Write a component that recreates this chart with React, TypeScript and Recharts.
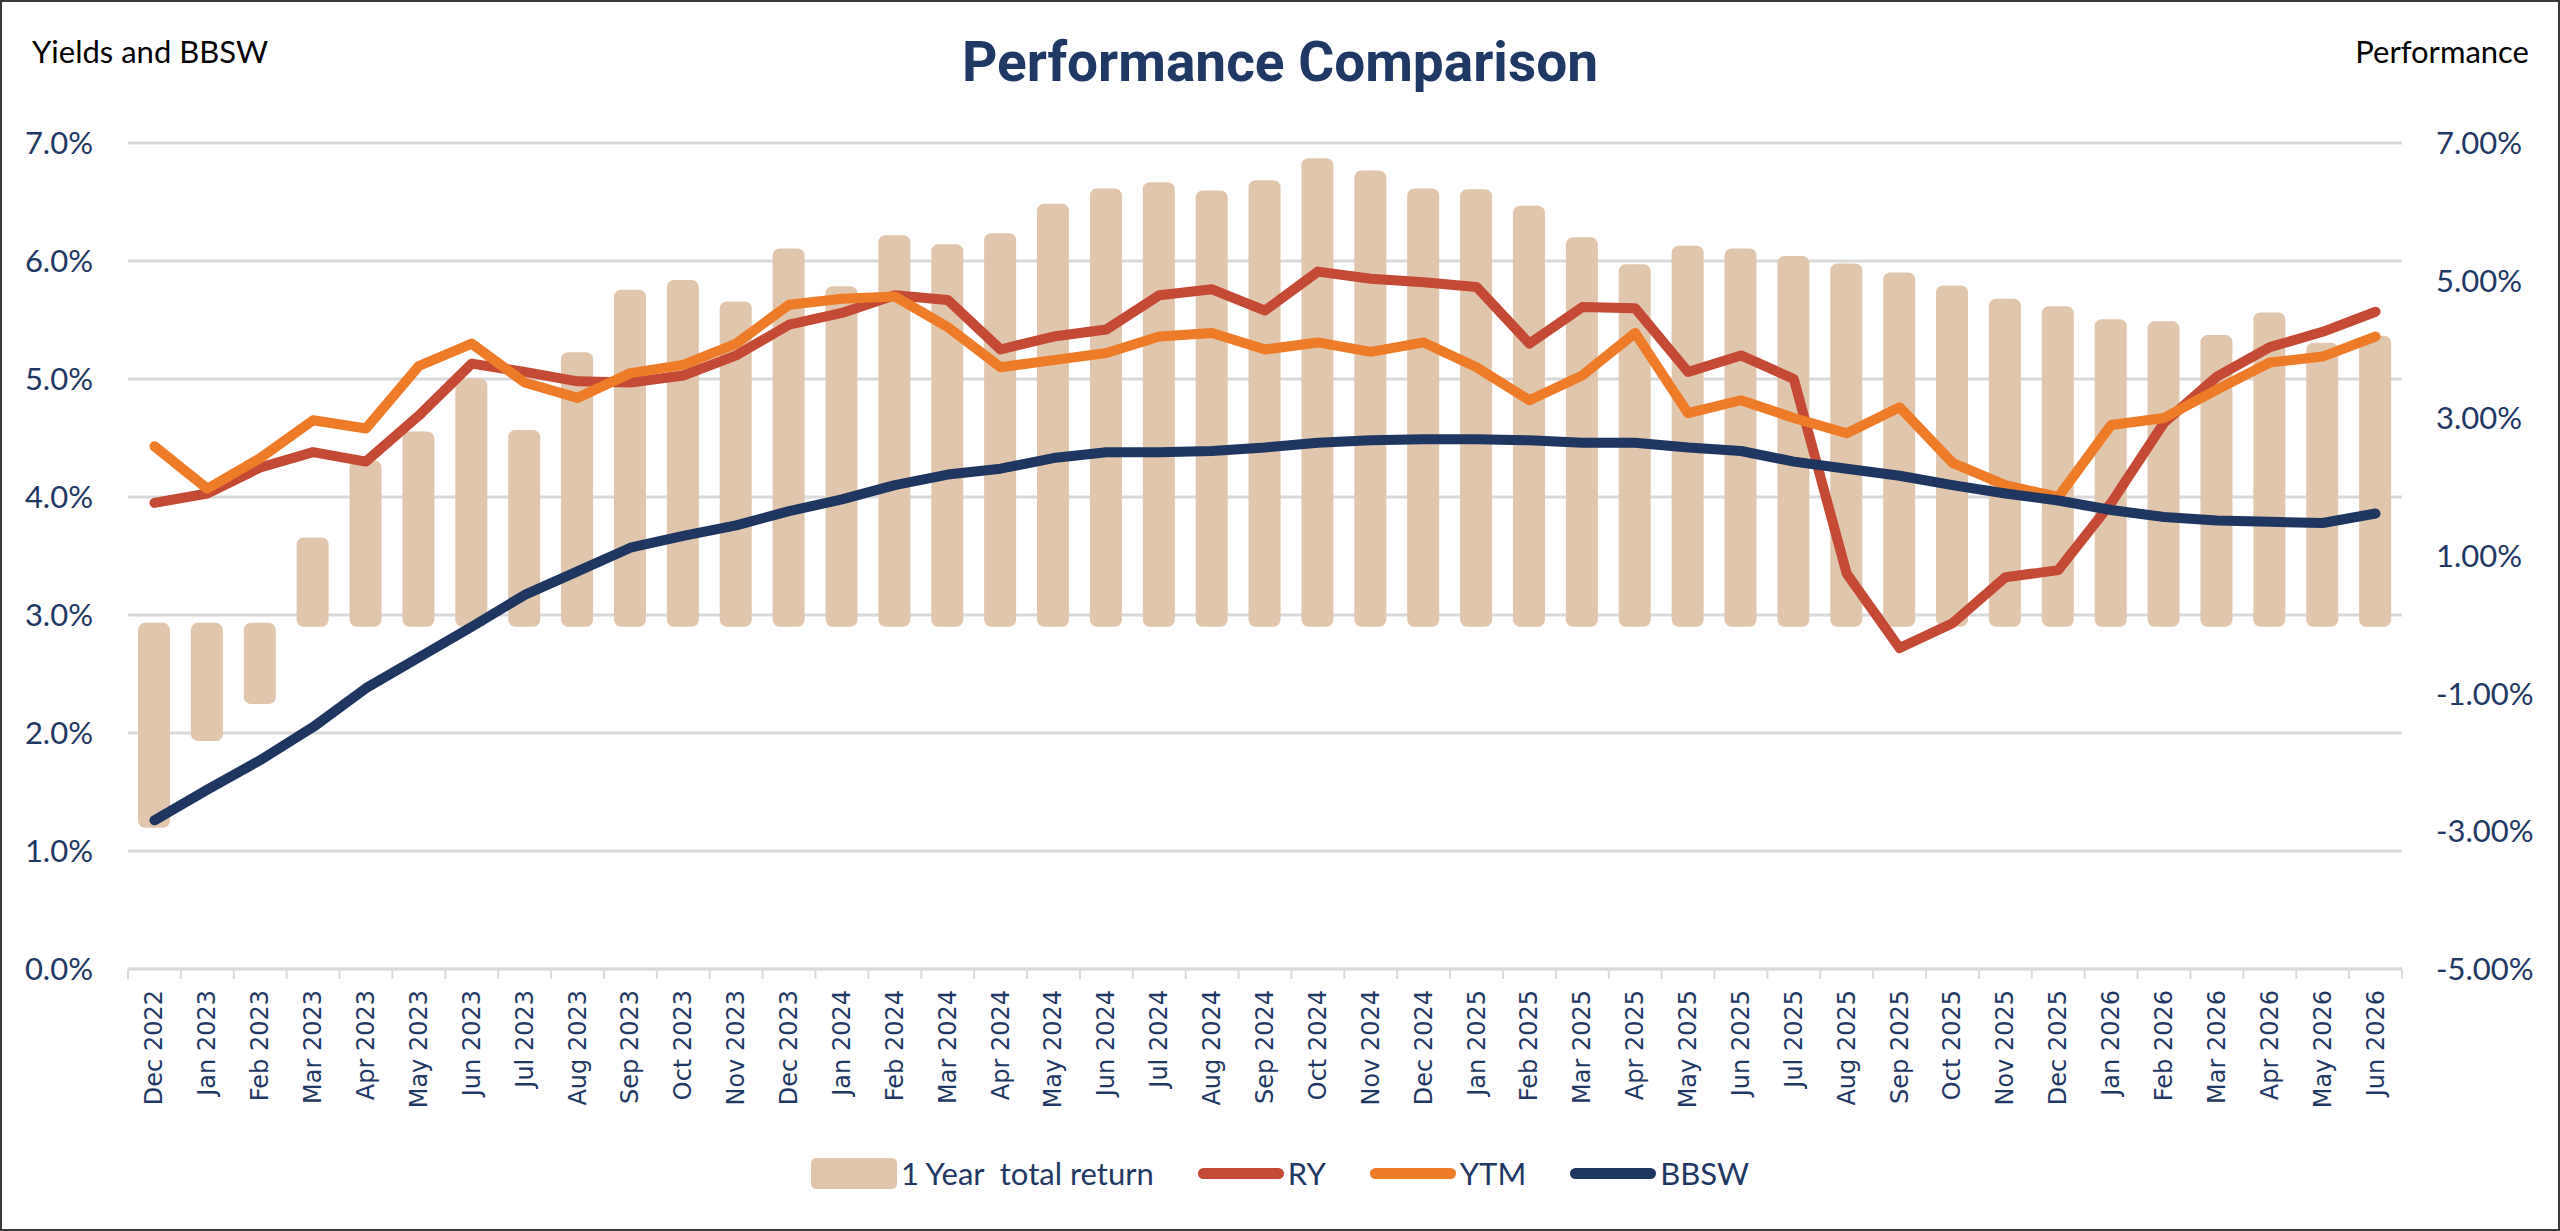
import React from 'react';
import { ComposedChart, Bar, Line, XAxis, YAxis, CartesianGrid, Legend } from 'recharts';

const months = [
  'Dec 2022', 'Jan 2023', 'Feb 2023', 'Mar 2023', 'Apr 2023', 'May 2023', 'Jun 2023', 'Jul 2023',
  'Aug 2023', 'Sep 2023', 'Oct 2023', 'Nov 2023', 'Dec 2023', 'Jan 2024', 'Feb 2024', 'Mar 2024',
  'Apr 2024', 'May 2024', 'Jun 2024', 'Jul 2024', 'Aug 2024', 'Sep 2024', 'Oct 2024', 'Nov 2024',
  'Dec 2024', 'Jan 2025', 'Feb 2025', 'Mar 2025', 'Apr 2025', 'May 2025', 'Jun 2025', 'Jul 2025',
  'Aug 2025', 'Sep 2025', 'Oct 2025', 'Nov 2025', 'Dec 2025', 'Jan 2026', 'Feb 2026', 'Mar 2026',
  'Apr 2026', 'May 2026', 'Jun 2026',
];

// 1 year total return (right axis, %)
const totalReturn = [
  -2.92, -1.66, -1.12, 1.24, 2.36, 2.78, 3.55, 2.8, 3.93, 4.84, 4.98, 4.67, 5.44, 4.89, 5.63, 5.5,
  5.66, 6.09, 6.31, 6.4, 6.28, 6.43, 6.75, 6.57, 6.31, 6.3, 6.06, 5.6, 5.21, 5.48, 5.44, 5.33,
  5.22, 5.09, 4.9, 4.71, 4.6, 4.41, 4.38, 4.18, 4.51, 4.07, 4.17,
];

// yields and BBSW (left axis, %)
const ry = [
  3.95, 4.03, 4.25, 4.38, 4.3, 4.69, 5.13, 5.06, 4.98, 4.97, 5.03, 5.2, 5.46, 5.56, 5.71, 5.67,
  5.25, 5.36, 5.42, 5.71, 5.76, 5.58, 5.91, 5.85, 5.82, 5.78, 5.3, 5.61, 5.6, 5.06, 5.2, 5.0,
  3.35, 2.72, 2.93, 3.32, 3.38, 3.95, 4.63, 5.02, 5.27, 5.4, 5.57,
];

const ytm = [
  4.43, 4.07, 4.33, 4.65, 4.58, 5.11, 5.3, 4.97, 4.84, 5.05, 5.12, 5.3, 5.63, 5.68, 5.7, 5.44,
  5.1, 5.16, 5.22, 5.36, 5.39, 5.25, 5.31, 5.23, 5.31, 5.1, 4.82, 5.03, 5.39, 4.71, 4.82, 4.67,
  4.54, 4.76, 4.29, 4.1, 4.0, 4.61, 4.67, 4.91, 5.14, 5.19, 5.36,
];

const bbsw = [
  1.26, 1.52, 1.77, 2.05, 2.38, 2.64, 2.9, 3.17, 3.37, 3.57, 3.67, 3.76, 3.88, 3.98, 4.1, 4.19,
  4.24, 4.33, 4.38, 4.38, 4.39, 4.42, 4.46, 4.48, 4.49, 4.49, 4.48, 4.46, 4.46, 4.42, 4.39, 4.3,
  4.24, 4.18, 4.1, 4.03, 3.97, 3.89, 3.83, 3.8, 3.79, 3.78, 3.86,
];

const yieldTicks = [0, 1, 2, 3, 4, 5, 6, 7];
const returnTicks = [-5, -3, -1, 1, 3, 5, 7];

const data = months.map((month, i) => ({
  month,
  totalReturn: totalReturn[i],
  ry: ry[i],
  ytm: ytm[i],
  bbsw: bbsw[i],
}));

const WIDTH = 2560;
const HEIGHT = 1231;
const LEFT_AXIS_W = 128;
const RIGHT_AXIS_W = 158;
const BAND = (WIDTH - LEFT_AXIS_W - RIGHT_AXIS_W) / months.length;

const NAVY = '#1F3864';
const GRID = '#D9D9D9';
const BAR_COLOR = '#E0C6AC';
const RY_COLOR = '#C54A36';
const YTM_COLOR = '#EE7B27';
const BBSW_COLOR = '#1F3660';

const LABEL_GAP = 21;

const MonthTick = (props: any) => {
  const { x, y, payload, index } = props;
  const axisY = y - LABEL_GAP;
  const half = BAND / 2;
  return (
    <g>
      <line x1={x - half} x2={x - half} y1={axisY} y2={axisY + 10} stroke={GRID} strokeWidth={2} />
      {index === months.length - 1 && (
        <line x1={x + half} x2={x + half} y1={axisY} y2={axisY + 10} stroke={GRID} strokeWidth={2} />
      )}
      <text
        x={x}
        y={y}
        transform={`rotate(-90 ${x} ${y})`}
        textAnchor="end"
        dominantBaseline="central"
        fill={NAVY}
        fontSize={24}
        fontFamily="DejaVu Sans"
      >
        {payload.value}
      </text>
    </g>
  );
};

const legendItems = [
  { name: '1 Year  total return', color: BAR_COLOR, type: 'bar' },
  { name: 'RY', color: RY_COLOR, type: 'line' },
  { name: 'YTM', color: YTM_COLOR, type: 'line' },
  { name: 'BBSW', color: BBSW_COLOR, type: 'line' },
];

const LegendRow = () => (
  <div style={{ height: 100, boxSizing: 'border-box', paddingTop: 26 }}>
    <div style={{ display: 'flex', justifyContent: 'center', alignItems: 'center', height: 32, gap: 44 }}>
      {legendItems.map((item) => (
        <div key={item.name} style={{ display: 'flex', alignItems: 'center', gap: 4 }}>
          <div
            style={{
              width: 86,
              height: item.type === 'bar' ? 31 : 11,
              borderRadius: item.type === 'bar' ? 5 : 6,
              background: item.color,
            }}
          />
          <span style={{ fontFamily: 'Lato', fontSize: 31, color: NAVY, whiteSpace: 'pre', lineHeight: '32px' }}>
            {item.name}
          </span>
        </div>
      ))}
    </div>
  </div>
);

export default function App() {
  return (
    <div style={{ position: 'absolute', left: 0, top: 0, width: WIDTH, height: HEIGHT, background: '#fff' }}>
      <ComposedChart
        width={WIDTH}
        height={HEIGHT}
        data={data}
        margin={{ top: 143, right: 0, bottom: 0, left: 0 }}
      >
        <CartesianGrid yAxisId="left" vertical={false} stroke={GRID} strokeWidth={3} />
        <XAxis
          dataKey="month"
          interval={0}
          height={162}
          tickLine={false}
          tickSize={10}
          tickMargin={11}
          axisLine={{ stroke: GRID, strokeWidth: 3 }}
          tick={<MonthTick />}
        />
        <YAxis
          yAxisId="left"
          orientation="left"
          width={LEFT_AXIS_W}
          domain={[0, 7]}
          ticks={yieldTicks}
          tickFormatter={(v: number) => `${v.toFixed(1)}%`}
          axisLine={false}
          tickLine={false}
          tickSize={10}
          tickMargin={25}
          tick={{ fill: NAVY, fontSize: 31, fontFamily: 'Lato' }}
        />
        <YAxis
          yAxisId="right"
          orientation="right"
          width={RIGHT_AXIS_W}
          domain={[-5, 7]}
          ticks={returnTicks}
          tickFormatter={(v: number) => `${v.toFixed(2)}%`}
          axisLine={false}
          tickLine={false}
          tickSize={10}
          tickMargin={24}
          tick={{ fill: NAVY, fontSize: 31, fontFamily: 'Lato', textAnchor: 'start' }}
        />
        <Legend verticalAlign="bottom" content={() => <LegendRow />} />
        <Bar
          yAxisId="right"
          dataKey="totalReturn"
          name="1 Year  total return"
          fill={BAR_COLOR}
          stroke={BAR_COLOR}
          strokeWidth={4}
          barSize={28}
          radius={5}
          isAnimationActive={false}
        />
        <Line
          yAxisId="left"
          type="linear"
          dataKey="ry"
          name="RY"
          stroke={RY_COLOR}
          strokeWidth={10}
          strokeLinecap="round"
          strokeLinejoin="round"
          dot={false}
          activeDot={false}
          isAnimationActive={false}
        />
        <Line
          yAxisId="left"
          type="linear"
          dataKey="ytm"
          name="YTM"
          stroke={YTM_COLOR}
          strokeWidth={10}
          strokeLinecap="round"
          strokeLinejoin="round"
          dot={false}
          activeDot={false}
          isAnimationActive={false}
        />
        <Line
          yAxisId="left"
          type="linear"
          dataKey="bbsw"
          name="BBSW"
          stroke={BBSW_COLOR}
          strokeWidth={10}
          strokeLinecap="round"
          strokeLinejoin="round"
          dot={false}
          activeDot={false}
          isAnimationActive={false}
        />
      </ComposedChart>
      <svg
        width={WIDTH}
        height={HEIGHT}
        style={{ position: 'absolute', left: 0, top: 0, pointerEvents: 'none' }}
      >
        <text x={1280} y={81} textAnchor="middle" fontFamily="Roboto" fontWeight={700} fontSize={55} fill={NAVY}>
          Performance Comparison
        </text>
        <text x={32} y={63} fontFamily="Lato" fontSize={31} fill="#000">
          Yields and BBSW
        </text>
        <text x={2529} y={63} textAnchor="end" fontFamily="Lato" fontSize={31} fill="#000">
          Performance
        </text>
      </svg>
      <div
        style={{
          position: 'absolute',
          inset: 0,
          border: '2px solid #3A3A3A',
          boxSizing: 'border-box',
          pointerEvents: 'none',
        }}
      />
    </div>
  );
}
